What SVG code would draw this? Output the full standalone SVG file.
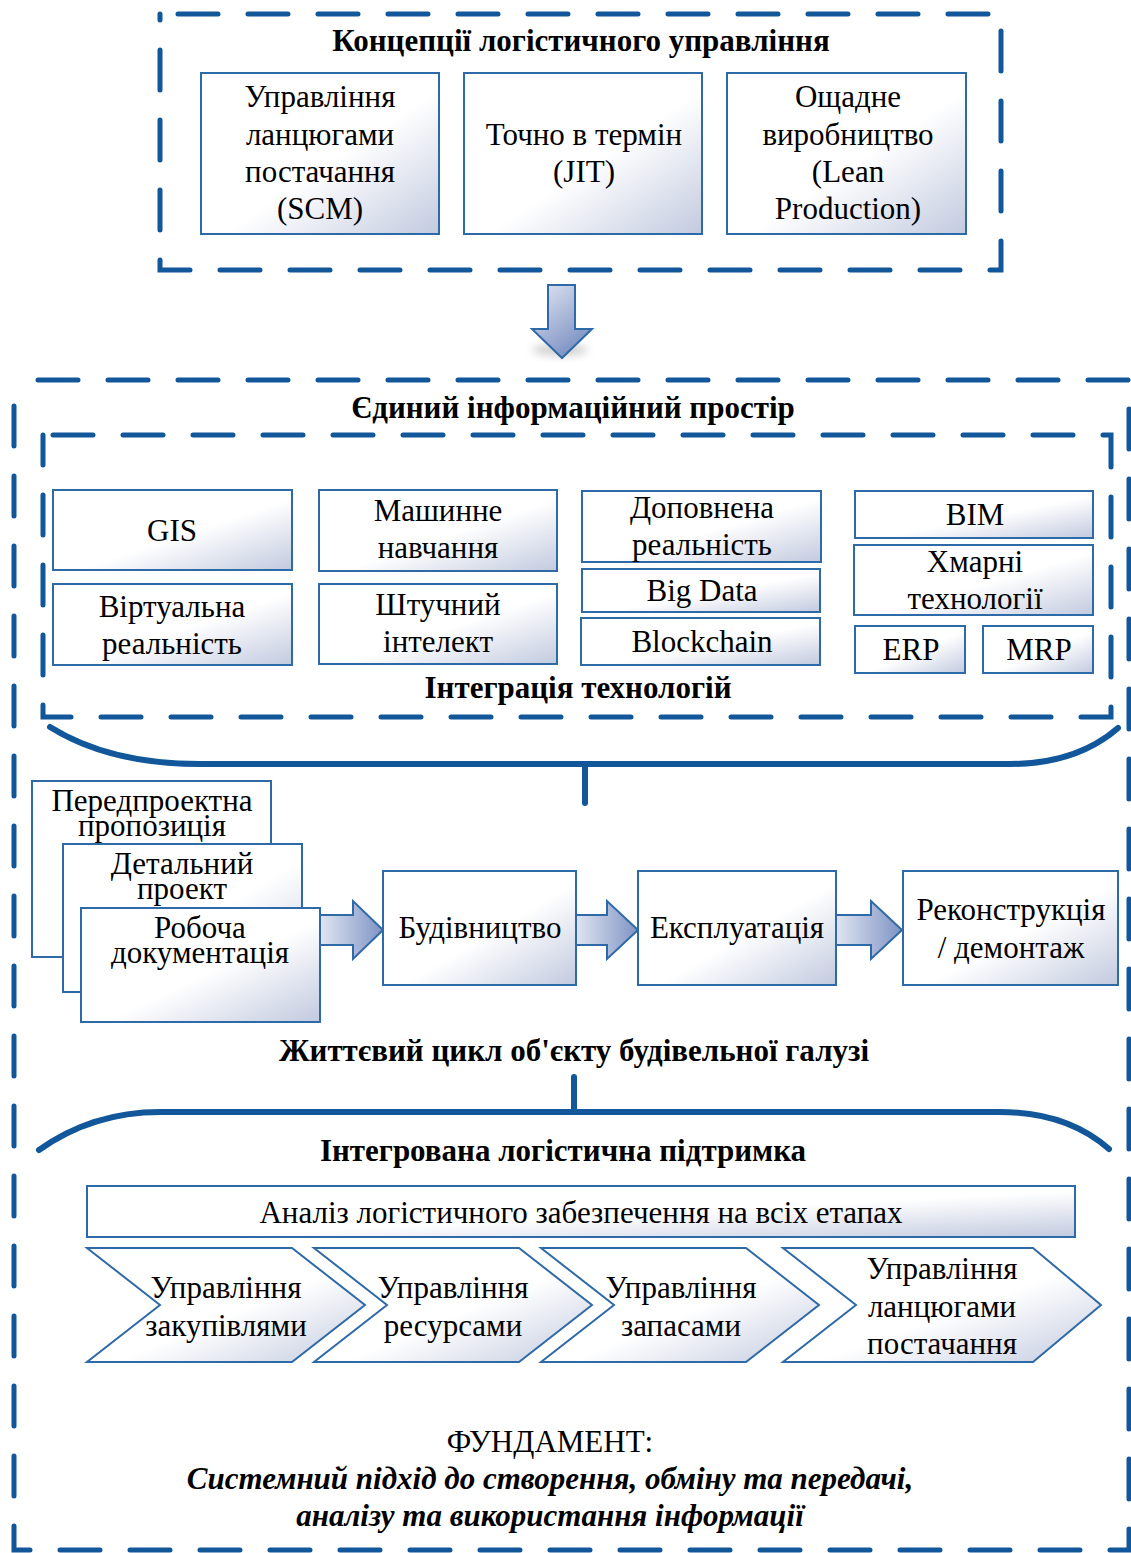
<svg xmlns="http://www.w3.org/2000/svg" width="1131" height="1553" viewBox="0 0 1131 1553">
<defs>
<linearGradient id="boxg" x1="0" y1="0" x2="1" y2="1">
<stop offset="0" stop-color="#ffffff"/>
<stop offset="0.55" stop-color="#ffffff"/>
<stop offset="1" stop-color="#c2cadf"/>
</linearGradient>
<linearGradient id="arrR" x1="0" y1="0" x2="1" y2="0">
<stop offset="0" stop-color="#dfe5f1"/>
<stop offset="1" stop-color="#7f93c4"/>
</linearGradient>
<linearGradient id="arrD" x1="0" y1="0" x2="0.6" y2="1">
<stop offset="0" stop-color="#e3e8f3"/>
<stop offset="1" stop-color="#7b8fc2"/>
</linearGradient>
<filter id="blur" x="-20%" y="-200%" width="140%" height="500%">
<feGaussianBlur stdDeviation="5"/>
</filter>
<filter id="blur2" x="-50%" y="-50%" width="200%" height="200%">
<feGaussianBlur stdDeviation="4"/>
</filter>
</defs>
<style>
.dash{fill:none;stroke:#11579a;stroke-width:5;stroke-dasharray:40 30;stroke-linecap:round}
.brk{fill:none;stroke:#11579a;stroke-width:6;stroke-linecap:round}
.box{fill:url(#boxg);stroke:#2f6aa8;stroke-width:2}
.wbox{fill:#ffffff;stroke:#2f6aa8;stroke-width:2}
.arr{fill:url(#arrR);stroke:#2f6aa8;stroke-width:2}
.t{font-family:"Liberation Serif","Times New Roman",serif;font-size:31px;fill:#000;text-anchor:middle}
.b{font-family:"Liberation Serif","Times New Roman",serif;font-size:31px;font-weight:bold;fill:#000;text-anchor:middle}
.bi{font-family:"Liberation Serif","Times New Roman",serif;font-size:31px;font-weight:bold;font-style:italic;fill:#000;text-anchor:middle}
.sh{fill:none;stroke:#000;stroke-opacity:0.10;stroke-width:8}
</style>
<rect width="1131" height="1553" fill="#ffffff"/>

<g id="concepts">
<rect class="dash" x="160" y="14" width="841" height="256" stroke-dashoffset="52"/>
<text class="b" x="581" y="51">Концепції логістичного управління</text>
</g>
<g id="scm">
<rect class="box" x="201" y="73" width="238" height="161"/>
<text class="t" x="320" y="107">Управління</text>
<text class="t" x="320" y="145">ланцюгами</text>
<text class="t" x="320" y="182">постачання</text>
<text class="t" x="320" y="219">(SCM)</text>
</g>
<g id="jit">
<rect class="box" x="464" y="73" width="238" height="161"/>
<text class="t" x="584" y="145">Точно в термін</text>
<text class="t" x="584" y="182">(JIT)</text>
</g>
<g id="lean">
<rect class="box" x="727" y="73" width="239" height="161"/>
<text class="t" x="848" y="107">Ощадне</text>
<text class="t" x="848" y="145">виробництво</text>
<text class="t" x="848" y="182">(Lean</text>
<text class="t" x="848" y="219">Production)</text>
</g>

<g id="connectors">
<ellipse cx="560" cy="350" rx="28" ry="6" fill="#000" fill-opacity="0.18" filter="url(#blur2)"/>
<path d="M548,285 L575,285 L575,329 L592,329 L562,358 L532,329 L548,329 Z" fill="url(#arrD)" stroke="#2f6aa8" stroke-width="2"/>
<path class="sh" d="M270,790 L1100,790" filter="url(#blur)"/>
<path class="brk" d="M50,727 C90,752 140,764 200,764 L1010,764 C1060,764 1095,748 1118,728"/>
<path class="brk" d="M585,764 L585,803"/>
<path class="sh" d="M120,1140 L1090,1140" filter="url(#blur)"/>
<path class="brk" d="M39,1150 C70,1128 110,1112 160,1112 L1000,1112 C1050,1112 1085,1128 1109,1149"/>
<path class="brk" d="M574,1112 L574,1077"/>
<path class="sh" d="M322,952 L900,952" filter="url(#blur2)"/>
<path class="arr" d="M320,915 L353,915 L353,901 L383,930 L353,959 L353,945 L320,945 Z"/>
<path class="arr" d="M576,915 L607,915 L607,901 L638,930 L607,959 L607,945 L576,945 Z"/>
<path class="arr" d="M836,915 L871,915 L871,901 L902,930 L871,959 L871,945 L836,945 Z"/>
</g>

<g id="info-space">
<rect class="dash" x="14" y="380" width="1115" height="1170" stroke-dashoffset="46"/>
<text class="b" x="573" y="418">Єдиний інформаційний простір</text>
</g>
<g id="tech-integration">
<rect class="dash" x="43" y="435" width="1068" height="282" stroke-dashoffset="60"/>
<text class="b" x="578" y="698">Інтеграція технологій</text>
</g>
<g id="gis">
<rect class="box" x="53" y="490" width="239" height="80"/>
<text class="t" x="172" y="541">GIS</text>
</g>
<g id="vr">
<rect class="box" x="53" y="584" width="239" height="81"/>
<text class="t" x="172" y="617">Віртуальна</text>
<text class="t" x="172" y="654">реальність</text>
</g>
<g id="ml">
<rect class="box" x="319" y="490" width="238" height="81"/>
<text class="t" x="438" y="521">Машинне</text>
<text class="t" x="438" y="558">навчання</text>
</g>
<g id="ai">
<rect class="box" x="319" y="584" width="238" height="80"/>
<text class="t" x="438" y="615">Штучний</text>
<text class="t" x="438" y="652">інтелект</text>
</g>
<g id="ar">
<rect class="box" x="582" y="491" width="239" height="71"/>
<text class="t" x="702" y="518">Доповнена</text>
<text class="t" x="702" y="555">реальність</text>
</g>
<g id="bigdata">
<rect class="box" x="582" y="569" width="238" height="43"/>
<text class="t" x="702" y="601">Big Data</text>
</g>
<g id="blockchain">
<rect class="box" x="581" y="618" width="239" height="47"/>
<text class="t" x="702" y="652">Blockchain</text>
</g>
<g id="bim">
<rect class="box" x="855" y="491" width="238" height="47"/>
<text class="t" x="975" y="525">BIM</text>
</g>
<g id="cloud">
<rect class="box" x="854" y="545" width="239" height="70"/>
<text class="t" x="975" y="572">Хмарні</text>
<text class="t" x="975" y="609">технології</text>
</g>
<g id="erp">
<rect class="box" x="855" y="626" width="110" height="47"/>
<text class="t" x="911" y="660">ERP</text>
</g>
<g id="mrp">
<rect class="box" x="983" y="626" width="110" height="47"/>
<text class="t" x="1039" y="660">MRP</text>
</g>

<g id="predesign">
<rect class="wbox" x="32" y="781" width="239" height="176"/>
<text class="t" x="152" y="811">Передпроектна</text>
<text class="t" x="152" y="836">пропозиція</text>
</g>
<g id="detailed">
<rect class="box" x="63" y="844" width="239" height="148"/>
<text class="t" x="182" y="874">Детальний</text>
<text class="t" x="182" y="899">проект</text>
</g>
<g id="working">
<rect class="box" x="81" y="908" width="239" height="114"/>
<text class="t" x="200" y="938">Робоча</text>
<text class="t" x="200" y="963">документація</text>
</g>
<g id="construction">
<rect class="box" x="383" y="871" width="193" height="114"/>
<text class="t" x="480" y="938">Будівництво</text>
</g>
<g id="operation">
<rect class="box" x="638" y="871" width="198" height="114"/>
<text class="t" x="737" y="938">Експлуатація</text>
</g>
<g id="reconstruction">
<rect class="box" x="903" y="871" width="215" height="114"/>
<text class="t" x="1011" y="920">Реконструкція</text>
<text class="t" x="1011" y="958">/ демонтаж</text>
</g>
<g id="lifecycle-label">
<text class="b" x="574" y="1061">Життєвий цикл об'єкту будівельної галузі</text>
</g>

<g id="ils">
<text class="b" x="563" y="1161">Інтегрована логістична підтримка</text>
</g>
<g id="analysis">
<rect class="box" x="87" y="1186" width="988" height="51"/>
<text class="t" x="581" y="1223">Аналіз логістичного забезпечення на всіх етапах</text>
</g>
<g id="procurement">
<path class="box" d="M87,1248 L292,1248 L365,1305 L292,1362 L87,1362 L160,1305 Z"/>
<text class="t" x="226" y="1298">Управління</text>
<text class="t" x="226" y="1336">закупівлями</text>
</g>
<g id="resources">
<path class="box" d="M314,1248 L519,1248 L592,1305 L519,1362 L314,1362 L387,1305 Z"/>
<text class="t" x="453" y="1298">Управління</text>
<text class="t" x="453" y="1336">ресурсами</text>
</g>
<g id="inventory">
<path class="box" d="M541,1248 L746,1248 L819,1305 L746,1362 L541,1362 L614,1305 Z"/>
<text class="t" x="681" y="1298">Управління</text>
<text class="t" x="681" y="1336">запасами</text>
</g>
<g id="supply-chain">
<path class="box" d="M783,1248 L1033,1248 L1101,1305 L1033,1362 L783,1362 L856,1305 Z"/>
<text class="t" x="942" y="1279">Управління</text>
<text class="t" x="942" y="1317">ланцюгами</text>
<text class="t" x="942" y="1354">постачання</text>
</g>

<g id="foundation">
<text class="t" x="550" y="1452">ФУНДАМЕНТ:</text>
<text class="bi" x="550" y="1489">Системний підхід до створення, обміну та передачі,</text>
<text class="bi" x="550" y="1526">аналізу та використання інформації</text>
</g>
</svg>
